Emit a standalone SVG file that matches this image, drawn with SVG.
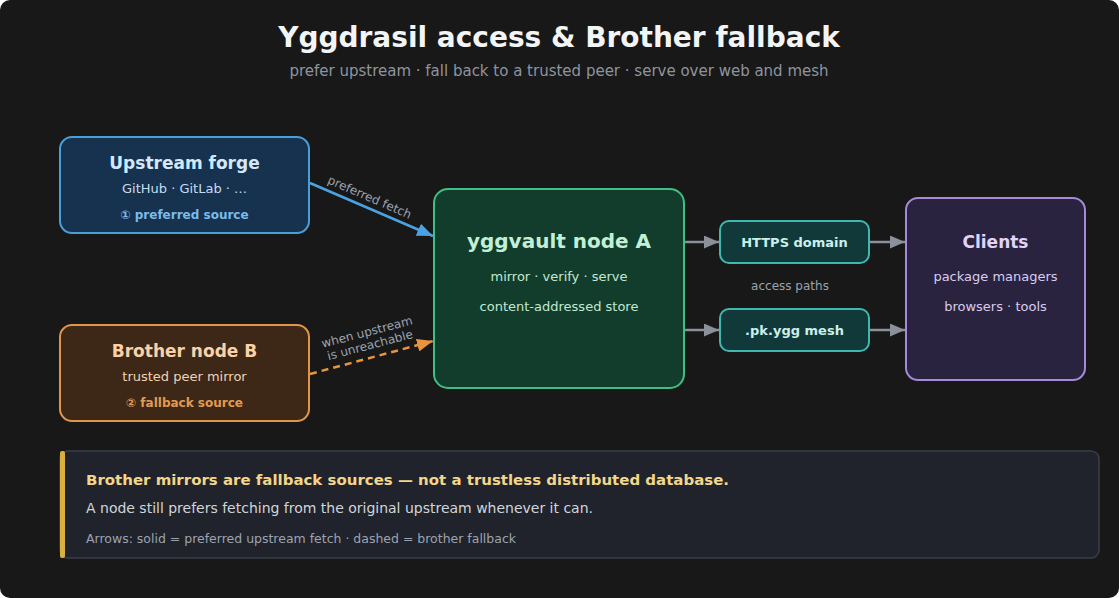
<svg xmlns="http://www.w3.org/2000/svg" width="1119" height="598" viewBox="0 0 1119 598">
<defs>
<style>
text{font-family:"DejaVu Sans","Liberation Sans",sans-serif;}
.t{font-weight:bold;text-anchor:middle;}
.m{text-anchor:middle;}
.edge{fill:none;stroke-width:2.5;}
</style>
<marker id="ab" viewBox="0 0 10 10" refX="10" refY="5" markerWidth="16" markerHeight="13" markerUnits="userSpaceOnUse" orient="auto" preserveAspectRatio="none"><path d="M0,0L10,5L0,10z" fill="#4aa3e0"/></marker>
<marker id="ao" viewBox="0 0 10 10" refX="10" refY="5" markerWidth="16" markerHeight="13" markerUnits="userSpaceOnUse" orient="auto" preserveAspectRatio="none"><path d="M0,0L10,5L0,10z" fill="#e6943f"/></marker>
<marker id="ag" viewBox="0 0 10 10" refX="10" refY="5" markerWidth="15" markerHeight="13" markerUnits="userSpaceOnUse" orient="auto" preserveAspectRatio="none"><path d="M0,0L10,5L0,10z" fill="#8b919b"/></marker>
</defs>
<rect x="0" y="0" width="1119" height="598" rx="10" fill="#181818"/>
<text class="t" x="559" y="47" font-size="28" fill="#f3f4f6">Yggdrasil access &amp; Brother fallback</text>
<text class="m" x="559" y="76" font-size="15" fill="#8e949e">prefer upstream · fall back to a trusted peer · serve over web and mesh</text>

<g id="connectors">
<path class="edge" d="M310,183L433,236" stroke="#4aa3e0" marker-end="url(#ab)"/>
<path class="edge" d="M310,374L433,341" stroke="#e6943f" stroke-dasharray="7,5" marker-end="url(#ao)"/>
<path class="edge" d="M685,242L719,242" stroke="#8b919b" marker-end="url(#ag)"/>
<path class="edge" d="M870,242L905,242" stroke="#8b919b" marker-end="url(#ag)"/>
<path class="edge" d="M685,330L719,330" stroke="#8b919b" marker-end="url(#ag)"/>
<path class="edge" d="M870,330L905,330" stroke="#8b919b" marker-end="url(#ag)"/>
<text class="m" font-size="12" fill="#9ca3af" transform="translate(368,201) rotate(23.5)">preferred fetch</text>
<text class="m" font-size="12" fill="#9ca3af" transform="translate(368,336) rotate(-14.7)">when upstream</text>
<text class="m" font-size="12" fill="#9ca3af" transform="translate(371,349) rotate(-14.7)">is unreachable</text>
<text class="m" x="790" y="290" font-size="12" fill="#9ca3af">access paths</text>
</g>

<g id="upstream">
<rect x="60" y="137" width="249" height="96" rx="12" fill="#16324f" stroke="#4a9fd8" stroke-width="2"/>
<text class="t" x="184.5" y="169" font-size="17" fill="#d4e8fb">Upstream forge</text>
<text class="m" x="184.5" y="193" font-size="13" fill="#c6dcf0">GitHub · GitLab · …</text>
<text class="t" x="184.5" y="219" font-size="12" fill="#7bbbe8">① preferred source</text>
</g>

<g id="brother">
<rect x="60" y="325" width="249" height="96" rx="12" fill="#3d2817" stroke="#e0954a" stroke-width="2"/>
<text class="t" x="184.5" y="357" font-size="17" fill="#fbd2a8">Brother node B</text>
<text class="m" x="184.5" y="381" font-size="13" fill="#f0d2b4">trusted peer mirror</text>
<text class="t" x="184.5" y="407" font-size="12" fill="#e29a52">② fallback source</text>
</g>

<g id="nodeA">
<rect x="434" y="189" width="250" height="199" rx="14" fill="#123d2c" stroke="#3fbf83" stroke-width="2"/>
<text class="t" x="559" y="248" font-size="20" fill="#c2f0d6">yggvault node A</text>
<text class="m" x="559" y="281" font-size="13" fill="#c2e8d2">mirror · verify · serve</text>
<text class="m" x="559" y="311" font-size="13" fill="#c2e8d2">content-addressed store</text>
</g>

<g id="https">
<rect x="720" y="221" width="149" height="42" rx="9" fill="#12393a" stroke="#3fb8b0" stroke-width="2"/>
<text class="t" x="794.5" y="247" font-size="13" fill="#cbefe9">HTTPS domain</text>
</g>

<g id="mesh">
<rect x="720" y="309" width="149" height="42" rx="9" fill="#12393a" stroke="#3fb8b0" stroke-width="2"/>
<text class="t" x="794.5" y="335" font-size="13" fill="#cbefe9">.pk.ygg mesh</text>
</g>

<g id="clients">
<rect x="906" y="198" width="179" height="182" rx="12" fill="#2a2340" stroke="#a48ad8" stroke-width="2"/>
<text class="t" x="995.5" y="248" font-size="17" fill="#e0d4f8">Clients</text>
<text class="m" x="995.5" y="281" font-size="13" fill="#d8cdee">package managers</text>
<text class="m" x="995.5" y="311" font-size="13" fill="#d8cdee">browsers · tools</text>
</g>

<g id="note">
<rect x="60" y="451" width="1039" height="107" rx="8" fill="#20232b" stroke="#3a3e48" stroke-width="1.5"/>
<rect x="60" y="451" width="5" height="107" rx="2" fill="#d9b040"/>
<text x="86" y="485" font-size="14" font-weight="bold" fill="#f3d68a" textLength="643" lengthAdjust="spacingAndGlyphs">Brother mirrors are fallback sources — not a trustless distributed database.</text>
<text x="86" y="513" font-size="14" fill="#d1d5db" textLength="507" lengthAdjust="spacingAndGlyphs">A node still prefers fetching from the original upstream whenever it can.</text>
<text x="86" y="543" font-size="12" fill="#9ca3af" textLength="430" lengthAdjust="spacingAndGlyphs">Arrows: solid = preferred upstream fetch · dashed = brother fallback</text>
</g>
</svg>
